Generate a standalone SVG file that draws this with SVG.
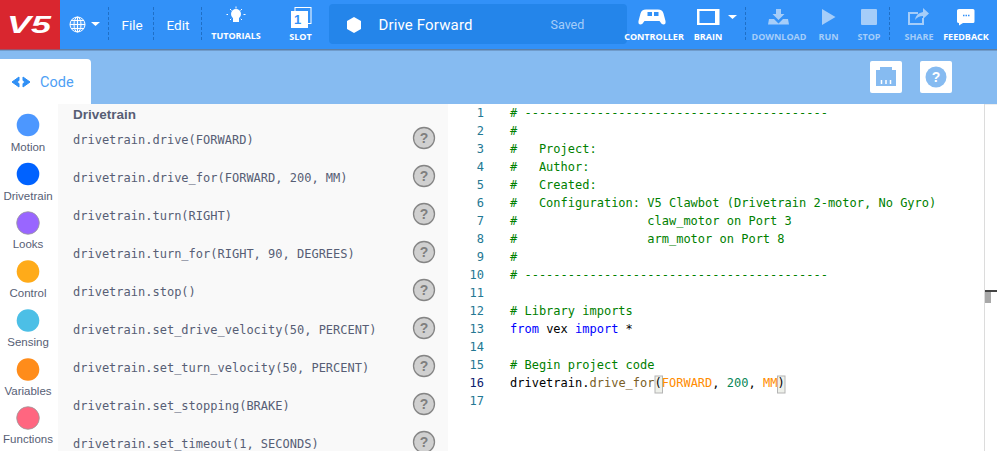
<svg xmlns="http://www.w3.org/2000/svg" width="997" height="451" viewBox="0 0 997 451">
<defs>
<g id="help"><circle r="10.500" fill="#d0d0d0" stroke="#858585" stroke-width="1.300"/><text class="q" y="5" text-anchor="middle">?</text></g>
</defs>
<style>
text{white-space:pre}
.ui{font-family:Roboto,"Liberation Sans",sans-serif;font-size:13.500px;fill:#fff}
.tb{font-family:"Open Sans","Noto Sans",sans-serif;font-size:9px;font-weight:700;fill:#fff;text-anchor:middle}
.dim{fill:#a5cdf9}
.sep{stroke:#1f6fc6;stroke-width:1;stroke-dasharray:3 2}
.cat{font-family:"Liberation Sans",sans-serif;font-size:11.500px;fill:#575e75;text-anchor:middle}
.api{font-family:"DejaVu Sans Mono",monospace;font-size:12px;fill:#575e75}
.q{font-family:"Liberation Sans",sans-serif;font-size:14px;font-weight:700;fill:#7f7f7f}
.code{font-family:"DejaVu Sans Mono",monospace;font-size:12px;fill:#000}
.c{fill:#008000}.k{fill:#0000ff}.f{fill:#795e26}.o{fill:#ff8c00}.n{fill:#098658}
.ln{font-family:"DejaVu Sans Mono",monospace;font-size:12px;fill:#237893;text-anchor:end}
</style>
<rect width="997" height="451" fill="#fff"/>
<g id="subbar"><rect y="50" width="997" height="54" fill="#86bbf1"/></g>
<g id="topbar">
<rect width="997" height="49.500" fill="#3291f8"/>
<rect y="49" width="997" height="1.500" fill="#5d7fa6"/>
<rect width="60" height="49.500" fill="#d9262f"/>
<text x="29" y="33" text-anchor="middle" font-family="'Liberation Sans',sans-serif" font-size="24" font-weight="700" font-style="italic" fill="#fff" textLength="44" lengthAdjust="spacingAndGlyphs">V5</text>
<line class="sep" x1="108.500" y1="7" x2="108.500" y2="42"/>
<line class="sep" x1="153.500" y1="7" x2="153.500" y2="42"/>
<line class="sep" x1="201.500" y1="7" x2="201.500" y2="42"/>
<line class="sep" x1="745.500" y1="7" x2="745.500" y2="42"/>
<line class="sep" x1="889.500" y1="7" x2="889.500" y2="42"/>
</g>
<g id="globe" fill="none" stroke="#fff" stroke-width="1">
<circle cx="77.500" cy="24.500" r="7.500" fill="#fff" fill-opacity="0.15"/>
<ellipse cx="77.500" cy="24.500" rx="3.500" ry="7.500"/>
<path d="M70 24.500h15M71 20.500h13M71 28.500h13M77.500 17v15"/>
<path d="M91 22h9l-4.500 4z" fill="#fff" stroke="none"/>
</g>
<g id="file"><text class="ui" x="121.500" y="29.500">File</text></g>
<g id="edit"><text class="ui" x="166.500" y="29.500">Edit</text></g>
<g id="tutorials">
<circle cx="236" cy="14" r="5" fill="#fff"/><rect x="233" y="18" width="6" height="4" fill="#fff"/>
<path d="M236 6.500v2M228 14.500h-1.500M245.500 14.500h-2M230 9l1.500 1.500M242 9l-1.500 1.500M230 20l1.200-1.200M242 20l-1.200-1.200" stroke="#fff" stroke-width="1" fill="none"/>
<text class="tb" x="236" y="39">TUTORIALS</text>
</g>
<g id="slot">
<rect x="295" y="7.500" width="16" height="16" fill="none" stroke="#fff" stroke-width="1"/>
<rect x="291" y="11" width="17" height="17" fill="#fff"/>
<text x="297.500" y="24" text-anchor="middle" font-family="'Liberation Sans',sans-serif" font-size="13" font-weight="700" fill="#3291f8">1</text>
<text class="tb" x="300.500" y="39.500">SLOT</text>
</g>
<g id="project">
<rect x="329" y="4" width="298" height="40" rx="4" fill="#2485ea"/>
<path d="M354 17l7 4v8l-7 4-7-4v-8z" fill="#fff"/>
<text class="ui" x="378.500" y="29.500" style="font-size:15px;letter-spacing:.15px">Drive Forward</text>
<text class="ui" x="550.500" y="28.500" style="font-size:12.500px;fill:#a5cdf9">Saved</text>
</g>
<g id="controller">
<path d="M648 9.500h10q4.500 0 5.500 4l2 7.500q.5 3.500-2 3.500-2 0-4-3.500h-15q-2 3.500-4 3.500-2.500 0-2-3.500l2-7.500q1-4 5.500-4z" fill="#fff"/>
<rect x="647.500" y="12" width="4.500" height="4" fill="#3291f8"/>
<rect x="654" y="12" width="4.500" height="4" fill="#3291f8"/>
<text class="tb" x="654" y="39.500">CONTROLLER</text>
</g>
<g id="brain">
<rect x="697" y="9" width="22.500" height="16" fill="#fff"/>
<rect x="699.500" y="11" width="15.500" height="12" fill="#3291f8"/>
<path d="M728 15h9l-4.500 4z" fill="#fff"/>
<text class="tb" x="708" y="39.500">BRAIN</text>
</g>
<g id="download">
<path d="M776 9h5v5h3.500l-6 6-6-6h3.500z" class="dim"/>
<path d="M769 19h5l4.500 4.500 4.500-4.500h5l1 5.500H768z" class="dim"/>
<text class="tb dim" x="779" y="39.500">DOWNLOAD</text>
</g>
<g id="run"><path d="M822 9l13.500 8-13.500 8z" class="dim"/><text class="tb dim" x="828.500" y="39.500">RUN</text></g>
<g id="stop"><rect x="861" y="9" width="16" height="16" rx="1" class="dim"/><text class="tb dim" x="869" y="39.500">STOP</text></g>
<g id="share">
<path d="M918 13h-9v11h14v-6" fill="none" stroke="#a5cdf9" stroke-width="2"/>
<path d="M923 8l6 5.500-6 5.500v-3q-5 0-8 4 1-7 8-8z" class="dim"/>
<text class="tb dim" x="919" y="39.500">SHARE</text>
</g>
<g id="feedback">
<path d="M959 9h14q1.500 0 1.500 1.500v11q0 1.500-1.500 1.500h-10l-4 2.500v-2.500q-2 0-2-1.500v-11q0-1.500 2-1.500z" fill="#fff"/>
<path d="M963 15.500h1.500M965.500 15.500h1.500M968 15.500h1.500" stroke="#3291f8" stroke-width="1.500"/>
<text class="tb" x="966" y="39.500">FEEDBACK</text>
</g>
<g id="tab-code">
<path d="M0 59h87q4 0 4 4v41H0z" fill="#fff"/>
<path d="M19 77l-7 5 7 5v-3.500l-2.500-1.500 2.500-1.500zM23 77l7 5-7 5v-3.500l2.500-1.500-2.500-1.500z" fill="#2f8ff5" stroke="#2f8ff5" stroke-width="1" stroke-linejoin="round"/>
<text x="40" y="87" font-family="Roboto,sans-serif" font-size="14.500" fill="#4ea0f5">Code</text>
</g>
<g id="btn-devices">
<rect x="870" y="61" width="32" height="32" rx="2" fill="#fff"/>
<path d="M876 70h4v-3h12v3h4v16h-20z" fill="#86bbf1"/>
<path d="M881.500 80v4M886 80v4M890.500 80v4" stroke="#fff" stroke-width="1.500"/>
</g>
<g id="btn-help">
<rect x="920" y="61" width="32" height="32" rx="2" fill="#fff"/>
<circle cx="936" cy="77" r="10.500" fill="#86bbf1"/>
<text x="936" y="82" text-anchor="middle" font-family="'Liberation Sans',sans-serif" font-size="14" font-weight="700" fill="#fff">?</text>
</g>
<g id="categories">
<g id="cat-motion"><circle cx="28" cy="125" r="11.300" fill="#4c97ff"/><text class="cat" x="28" y="151">Motion</text></g>
<g id="cat-drivetrain"><circle cx="28" cy="174" r="11.300" fill="#0062ff"/><text class="cat" x="28" y="200">Drivetrain</text></g>
<g id="cat-looks"><circle cx="28" cy="223" r="11.300" fill="#9966ff" stroke="#999" stroke-width="0.800"/><text class="cat" x="28" y="248">Looks</text></g>
<g id="cat-control"><circle cx="28" cy="271.500" r="11.300" fill="#ffab19"/><text class="cat" x="28" y="297">Control</text></g>
<g id="cat-sensing"><circle cx="28" cy="320.500" r="11.300" fill="#4cbfe6"/><text class="cat" x="28" y="346">Sensing</text></g>
<g id="cat-variables"><circle cx="28" cy="369.500" r="11.300" fill="#ff8c1a"/><text class="cat" x="28" y="395">Variables</text></g>
<g id="cat-functions"><circle cx="28" cy="418" r="11.300" fill="#ff6680" stroke="#999" stroke-width="0.800"/><text class="cat" x="28" y="443">Functions</text></g>
</g>
<g id="api-panel">
<rect x="58" y="104" width="390" height="347" fill="#f9f9f9"/>
<text x="73" y="118.500" font-family="'Liberation Sans',sans-serif" font-size="13.500" font-weight="700" fill="#575e75">Drivetrain</text>
<g id="api-1"><text class="api" x="73" y="144">drivetrain.drive(FORWARD)</text><use href="#help" x="424" y="138"/></g>
<g id="api-2"><text class="api" x="73" y="182">drivetrain.drive_for(FORWARD, 200, MM)</text><use href="#help" x="424" y="176"/></g>
<g id="api-3"><text class="api" x="73" y="220">drivetrain.turn(RIGHT)</text><use href="#help" x="424" y="214"/></g>
<g id="api-4"><text class="api" x="73" y="258">drivetrain.turn_for(RIGHT, 90, DEGREES)</text><use href="#help" x="424" y="252"/></g>
<g id="api-5"><text class="api" x="73" y="296">drivetrain.stop()</text><use href="#help" x="424" y="290"/></g>
<g id="api-6"><text class="api" x="73" y="334">drivetrain.set_drive_velocity(50, PERCENT)</text><use href="#help" x="424" y="328"/></g>
<g id="api-7"><text class="api" x="73" y="372">drivetrain.set_turn_velocity(50, PERCENT)</text><use href="#help" x="424" y="366"/></g>
<g id="api-8"><text class="api" x="73" y="410">drivetrain.set_stopping(BRAKE)</text><use href="#help" x="424" y="404"/></g>
<g id="api-9"><text class="api" x="73" y="448">drivetrain.set_timeout(1, SECONDS)</text><use href="#help" x="424" y="442"/></g>
</g>
<g id="editor">
<g id="line-numbers">
<text class="ln" x="484" y="117">1</text><text class="ln" x="484" y="135">2</text><text class="ln" x="484" y="153">3</text><text class="ln" x="484" y="171">4</text><text class="ln" x="484" y="189">5</text><text class="ln" x="484" y="207">6</text><text class="ln" x="484" y="225">7</text><text class="ln" x="484" y="243">8</text><text class="ln" x="484" y="261">9</text><text class="ln" x="484" y="279">10</text><text class="ln" x="484" y="297">11</text><text class="ln" x="484" y="315">12</text><text class="ln" x="484" y="333">13</text><text class="ln" x="484" y="351">14</text><text class="ln" x="484" y="369">15</text><text class="ln" x="484" y="387" style="fill:#0b216f">16</text><text class="ln" x="484" y="405">17</text>
</g>
<rect x="655" y="376" width="7.500" height="17" fill="#eef0ea" stroke="#b4b4b4" stroke-width="1"/>
<rect x="777.500" y="376" width="7.500" height="17" fill="#eef0ea" stroke="#b4b4b4" stroke-width="1"/>
<g id="code">
<text class="code c" x="510" y="117"># ------------------------------------------</text>
<text class="code c" x="510" y="135">#</text>
<text class="code c" x="510" y="153">#   Project:</text>
<text class="code c" x="510" y="171">#   Author:</text>
<text class="code c" x="510" y="189">#   Created:</text>
<text class="code c" x="510" y="207">#   Configuration: V5 Clawbot (Drivetrain 2-motor, No Gyro)</text>
<text class="code c" x="510" y="225">#                  claw_motor on Port 3</text>
<text class="code c" x="510" y="243">#                  arm_motor on Port 8</text>
<text class="code c" x="510" y="261">#</text>
<text class="code c" x="510" y="279"># ------------------------------------------</text>
<text class="code c" x="510" y="315"># Library imports</text>
<text class="code" x="510" y="333"><tspan class="k">from</tspan> vex <tspan class="k">import</tspan> *</text>
<text class="code c" x="510" y="369"># Begin project code</text>
<text class="code" x="510" y="387">drivetrain.<tspan class="f">drive_for</tspan>(<tspan class="o">FORWARD</tspan>, <tspan class="n">200</tspan>, <tspan class="o">MM</tspan>)</text>
</g>
</g>
<g id="scrollbar">
<rect x="984" y="104" width="1" height="347" fill="#dcdcdc"/>
<rect x="985" y="104" width="12" height="1" fill="#eee"/>
<rect x="985" y="290" width="12" height="2" fill="#444"/>
<rect x="985" y="292" width="6" height="11" fill="#a8a8a8"/>
</g>
</svg>
